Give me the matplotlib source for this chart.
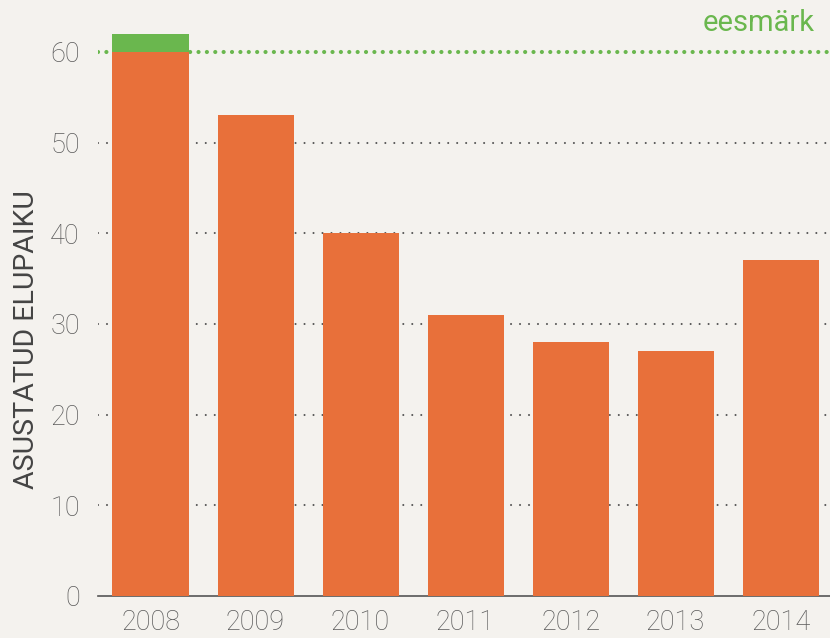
import matplotlib
matplotlib.use("Agg")
import matplotlib.pyplot as plt

years = ["2008", "2009", "2010", "2011", "2012", "2013", "2014"]
values = [62, 53, 40, 31, 28, 27, 37]
target = 60
yticks = [0, 10, 20, 30, 40, 50, 60]
ylabel = "ASUSTATUD ELUPAIKU"
target_label = "eesmärk"

orange = "#E8703A"
green = "#6AB74E"
bg = "#F4F2EE"

plt.rcParams['font.family'] = ['Roboto', 'DejaVu Sans']

fig = plt.figure(figsize=(8.3, 6.38), dpi=100, facecolor=bg)
ax = fig.add_axes([98/830, 42/638, 1 - 98/830, (596-0)/638])
ax.set_facecolor(bg)

x = list(range(len(years)))
below = [min(v, target) for v in values]
above = [max(v - target, 0) for v in values]
ax.bar(x, below, width=0.724, color=orange, zorder=3)
ax.bar(x, above, width=0.724, bottom=below, color=green, zorder=3)

ax.set_xlim(-0.5, 6.47)
ax.set_ylim(0, 596/9.07)

for t in yticks[1:-1]:
    ax.axhline(t, color="#555555", linestyle=(0, (0.01, 4.3)), linewidth=1.5,
               dash_capstyle='round', zorder=1)
ax.axhline(target, color=green, linestyle=(0, (0.01, 2.0)), linewidth=3,
           zorder=2, dash_capstyle='round')
ax.text(6.327, 63.2, target_label, color=green, fontsize=21, fontweight='normal',
        ha="right", va="center")

ax.set_yticks(yticks)
ax.set_yticklabels([str(t) for t in yticks], fontsize=19.5, color="#5a5a5a", fontweight='light')
ax.set_xticks(x)
ax.set_xticklabels(years, fontsize=19.5, color="#5a5a5a", fontweight='light')
ax.tick_params(axis='x', length=0, pad=9)
ax.tick_params(axis='y', length=0, pad=13)

for s in ["top", "right", "left"]:
    ax.spines[s].set_visible(False)
ax.spines["bottom"].set_color("#555555")
ax.spines["bottom"].set_linewidth(1.2)

ax.set_ylabel(ylabel, fontsize=20.5, color="#444444", fontweight='normal')
ax.yaxis.set_label_coords(-0.079, 0.43)

fig.savefig("out.png", dpi=100, facecolor=bg)
